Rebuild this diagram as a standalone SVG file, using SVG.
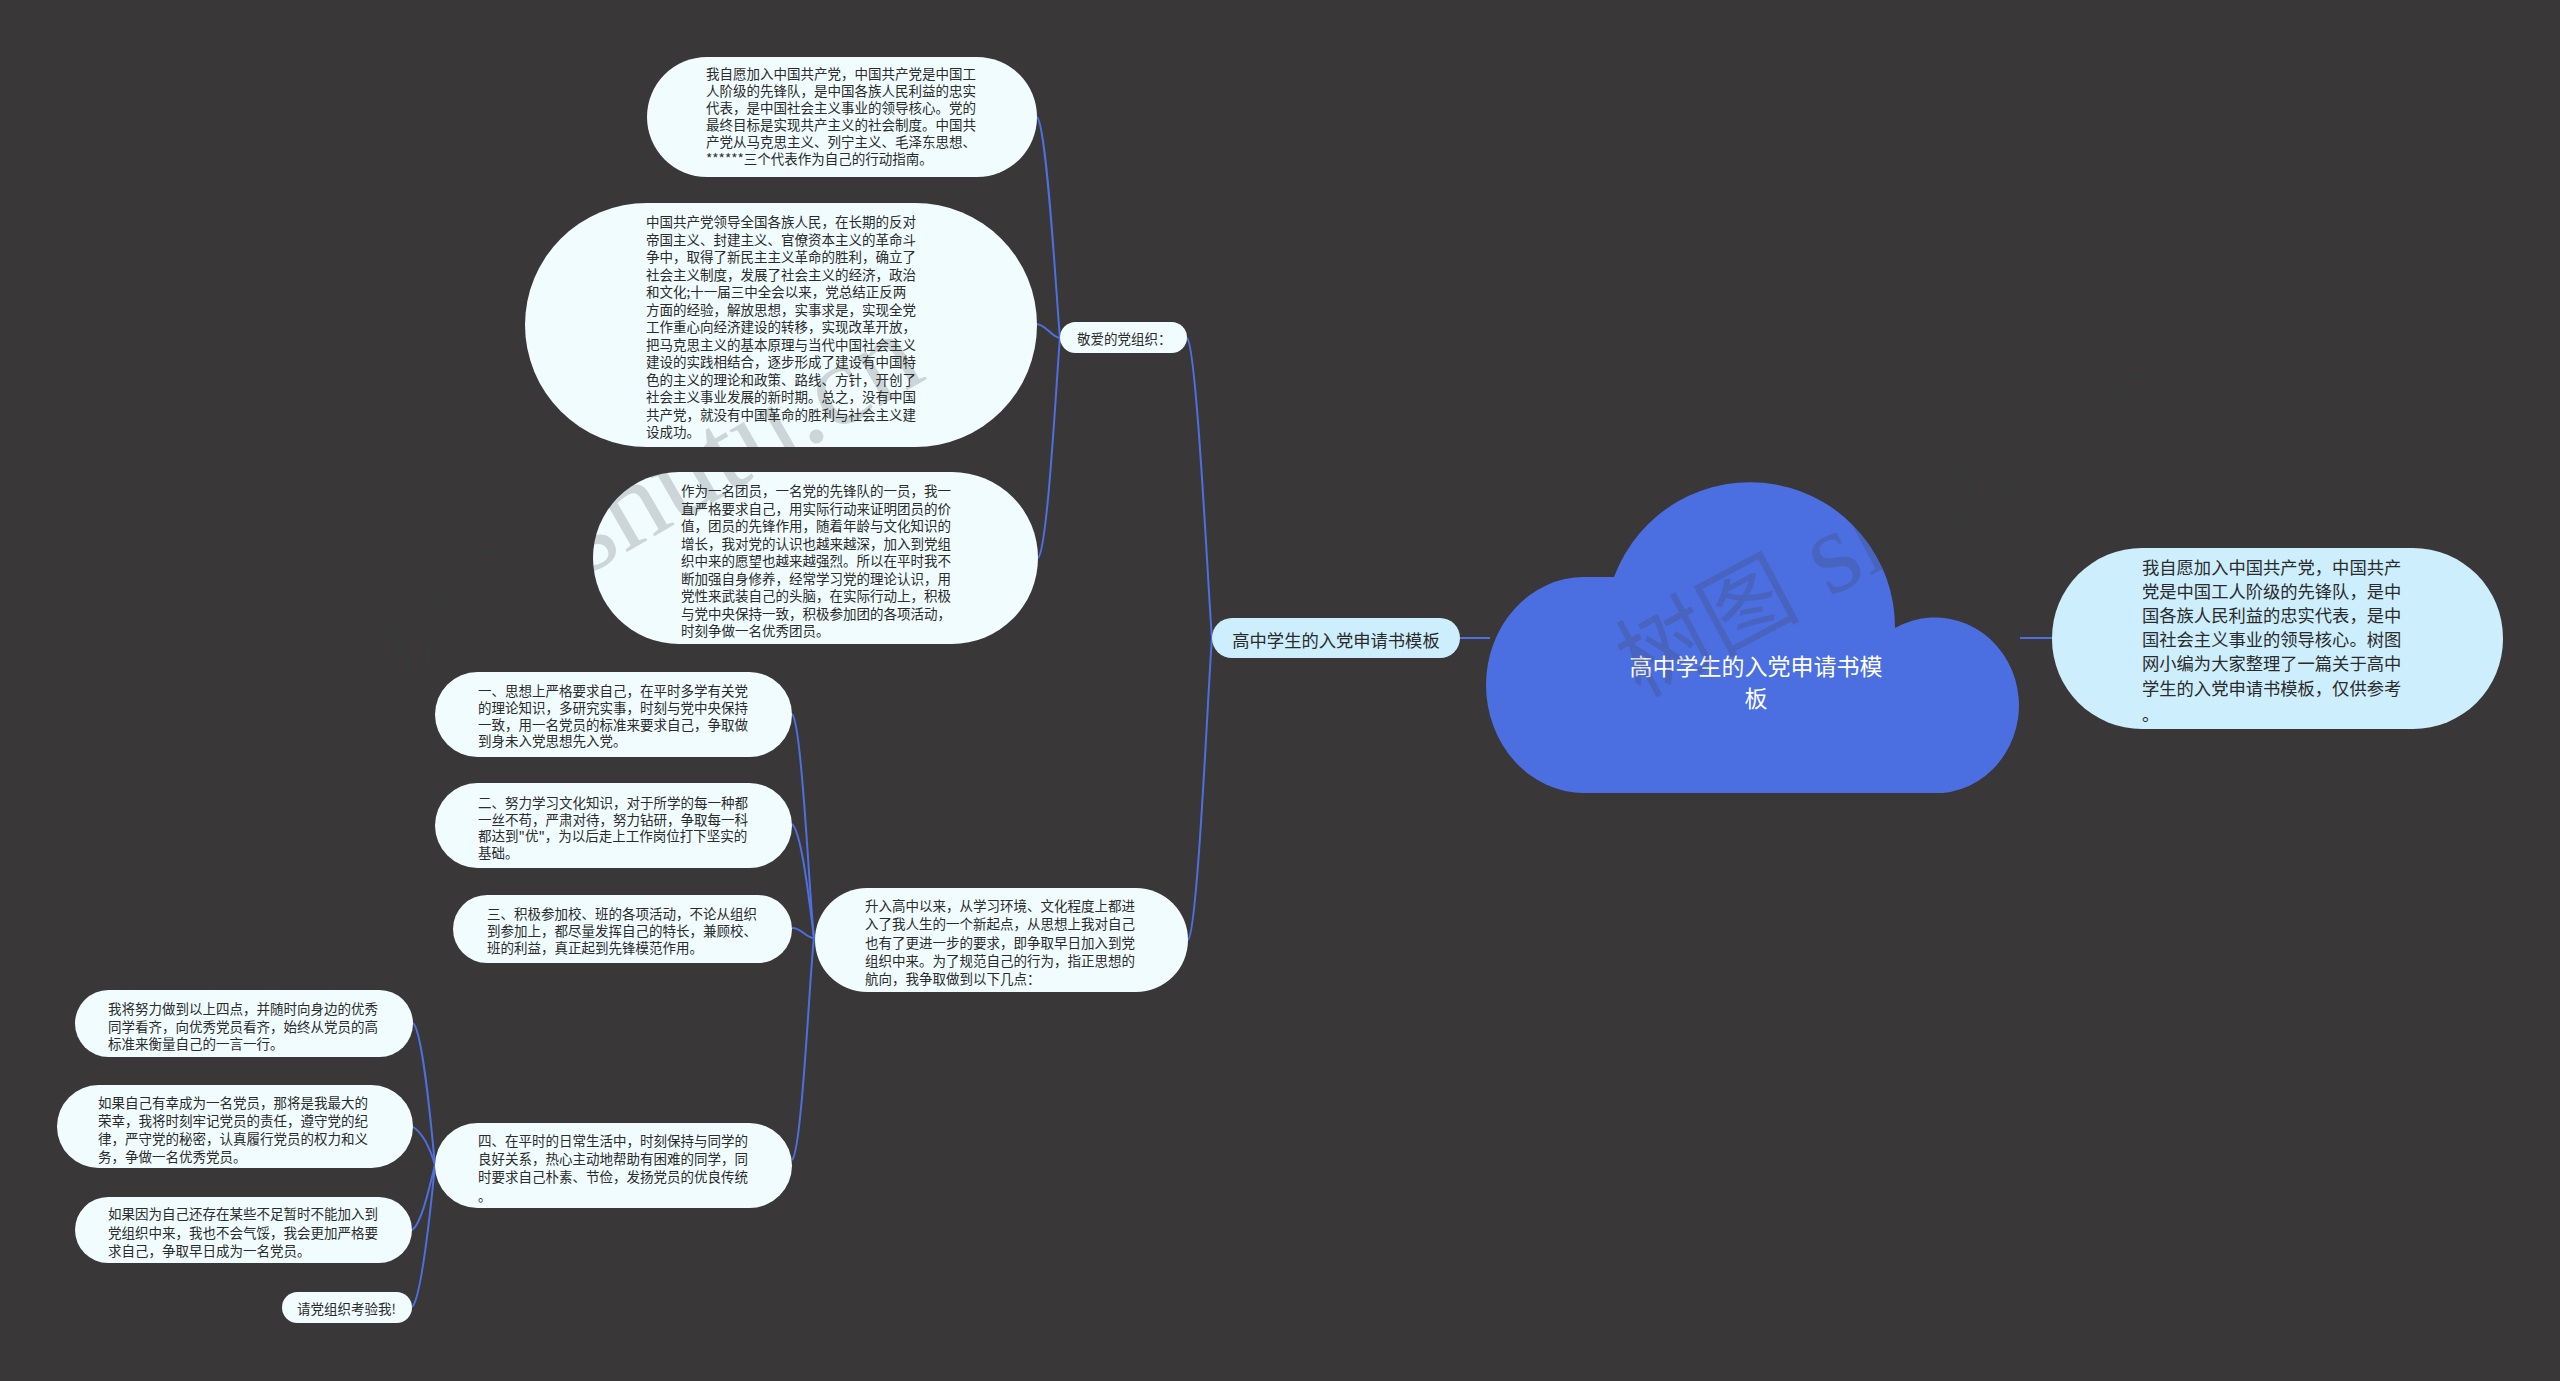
<svg xmlns="http://www.w3.org/2000/svg" width="2560" height="1381" viewBox="0 0 2560 1381">
<style>
.bg{fill:#393738}
.n{fill:#f0fcfe}
.n2{fill:#cdeefc}
.t{font-family:"Noto Sans CJK SC","Liberation Sans",sans-serif;font-size:13.5px;fill:#2b2b2b;dominant-baseline:central}
.tl{font-family:"Noto Sans CJK SC","Liberation Sans",sans-serif;font-size:17.3px;fill:#2b2b2b;dominant-baseline:central}
.tc{font-family:"Noto Sans CJK SC","Liberation Sans",sans-serif;font-size:23px;fill:#ffffff;dominant-baseline:central;text-anchor:middle}
.c{fill:none;stroke:#4d6fe0;stroke-width:2}
.wm{font-family:"Liberation Serif","Noto Sans CJK SC",serif;font-size:118px;fill:#3a3a3a;fill-opacity:0.2}
.wmc{font-size:92px}
</style>
<rect class="bg" x="0" y="0" width="2560" height="1381"/>

<g id="connectors">
<path class="c" stroke-width="3" d="M1460 638 L1490 638"/>
<path class="c" stroke-width="3" d="M2020 638 L2054 638"/>
<path class="c" d="M1187 338 C1197 346 1209 608 1212 638"/>
<path class="c" d="M1188 940 C1198 932 1209 668 1212 638"/>
<path class="c" d="M1037 117 C1047 125 1057 308 1060 338"/>
<path class="c" d="M1036 324 C1046 324 1052 338 1060 338"/>
<path class="c" d="M1038 558 C1048 550 1057 368 1060 338"/>
<path class="c" d="M792 714 C802 722 810 908 814 938"/>
<path class="c" d="M792 824 C802 832 810 908 814 938"/>
<path class="c" d="M792 928 C802 928 806 938 814 938"/>
<path class="c" d="M792 1160 C802 1152 810 968 814 938"/>
<path class="c" d="M413 1023 C423 1031 432 1135 435 1165"/>
<path class="c" d="M413 1127 C423 1133 431 1150 435 1165"/>
<path class="c" d="M412 1230 C422 1224 431 1180 435 1165"/>
<path class="c" d="M412 1307 C422 1299 432 1195 435 1165"/>
</g>

<g id="root">
<path fill="#4b6fe0" d="M1584 793 A98 108 0 0 1 1584 577 L1614 577 A145 145 0 0 1 1895 628 A84 88 0 1 1 1943 793 Z"/>
<text class="tc"><tspan x="1756" y="665">高中学生的入党申请书模</tspan><tspan x="1756" y="697">板</tspan></text>
</g>

<g id="summary">
<rect class="n2" x="2052" y="548" width="451" height="181" rx="90"/>
<text class="tl"><tspan x="2142" y="566">我自愿加入中国共产党，中国共产</tspan><tspan x="2142" y="590">党是中国工人阶级的先锋队，是中</tspan><tspan x="2142" y="614">国各族人民利益的忠实代表，是中</tspan><tspan x="2142" y="638">国社会主义事业的领导核心。树图</tspan><tspan x="2142" y="662">网小编为大家整理了一篇关于高中</tspan><tspan x="2142" y="687">学生的入党申请书模板，仅供参考</tspan><tspan x="2142" y="713">。</tspan></text>
</g>

<g id="main">
<rect class="n2" x="1212" y="618" width="248" height="40" rx="20"/>
<text class="tl" x="1336" y="639" text-anchor="middle">高中学生的入党申请书模板</text>
</g>

<g id="greeting">
<rect class="n" x="1060" y="322" width="127" height="31" rx="15.5"/>
<text class="t" x="1077" y="338">敬爱的党组织：</text>
</g>

<g id="p1">
<rect class="n" x="647" y="57" width="390" height="120" rx="60"/>
<text class="t"><tspan x="706" y="73">我自愿加入中国共产党，中国共产党是中国工</tspan><tspan x="706" y="90">人阶级的先锋队，是中国各族人民利益的忠实</tspan><tspan x="706" y="107">代表，是中国社会主义事业的领导核心。党的</tspan><tspan x="706" y="124">最终目标是实现共产主义的社会制度。中国共</tspan><tspan x="706" y="141">产党从马克思主义、列宁主义、毛泽东思想、</tspan><tspan x="706" y="158">******三个代表作为自己的行动指南。</tspan></text>
</g>

<g id="p2">
<rect class="n" x="525" y="203" width="512" height="244" rx="122"/>
<text class="t"><tspan x="646" y="221">中国共产党领导全国各族人民，在长期的反对</tspan><tspan x="646" y="238.5">帝国主义、封建主义、官僚资本主义的革命斗</tspan><tspan x="646" y="256">争中，取得了新民主主义革命的胜利，确立了</tspan><tspan x="646" y="273.5">社会主义制度，发展了社会主义的经济，政治</tspan><tspan x="646" y="291">和文化;十一届三中全会以来，党总结正反两</tspan><tspan x="646" y="308.5">方面的经验，解放思想，实事求是，实现全党</tspan><tspan x="646" y="326">工作重心向经济建设的转移，实现改革开放，</tspan><tspan x="646" y="343.5">把马克思主义的基本原理与当代中国社会主义</tspan><tspan x="646" y="361">建设的实践相结合，逐步形成了建设有中国特</tspan><tspan x="646" y="378.5">色的主义的理论和政策、路线、方针，开创了</tspan><tspan x="646" y="396">社会主义事业发展的新时期。总之，没有中国</tspan><tspan x="646" y="413.5">共产党，就没有中国革命的胜利与社会主义建</tspan><tspan x="646" y="431">设成功。</tspan></text>
</g>

<g id="p3">
<rect class="n" x="593" y="472" width="445" height="172" rx="86"/>
<text class="t"><tspan x="681" y="490">作为一名团员，一名党的先锋队的一员，我一</tspan><tspan x="681" y="507.5">直严格要求自己，用实际行动来证明团员的价</tspan><tspan x="681" y="525">值，团员的先锋作用，随着年龄与文化知识的</tspan><tspan x="681" y="542.5">增长，我对党的认识也越来越深，加入到党组</tspan><tspan x="681" y="560">织中来的愿望也越来越强烈。所以在平时我不</tspan><tspan x="681" y="577.5">断加强自身修养，经常学习党的理论认识，用</tspan><tspan x="681" y="595">党性来武装自己的头脑，在实际行动上，积极</tspan><tspan x="681" y="612.5">与党中央保持一致，积极参加团的各项活动，</tspan><tspan x="681" y="630">时刻争做一名优秀团员。</tspan></text>
</g>

<g id="intro">
<rect class="n" x="815" y="888" width="373" height="104" rx="52"/>
<text class="t"><tspan x="865" y="905">升入高中以来，从学习环境、文化程度上都进</tspan><tspan x="865" y="923">入了我人生的一个新起点，从思想上我对自己</tspan><tspan x="865" y="941.5">也有了更进一步的要求，即争取早日加入到党</tspan><tspan x="865" y="960">组织中来。为了规范自己的行为，指正思想的</tspan><tspan x="865" y="978">航向，我争取做到以下几点：</tspan></text>
</g>

<g id="point1">
<rect class="n" x="435" y="672" width="357" height="85" rx="42.5"/>
<text class="t"><tspan x="478" y="690">一、思想上严格要求自己，在平时多学有关党</tspan><tspan x="478" y="707">的理论知识，多研究实事，时刻与党中央保持</tspan><tspan x="478" y="723.5">一致，用一名党员的标准来要求自己，争取做</tspan><tspan x="478" y="740">到身未入党思想先入党。</tspan></text>
</g>

<g id="point2">
<rect class="n" x="435" y="783" width="357" height="85" rx="42.5"/>
<text class="t"><tspan x="478" y="802">二、努力学习文化知识，对于所学的每一种都</tspan><tspan x="478" y="818.5">一丝不苟，严肃对待，努力钻研，争取每一科</tspan><tspan x="478" y="835">都达到"优"，为以后走上工作岗位打下坚实的</tspan><tspan x="478" y="852">基础。</tspan></text>
</g>

<g id="point3">
<rect class="n" x="453" y="895" width="339" height="68" rx="34"/>
<text class="t"><tspan x="487" y="913">三、积极参加校、班的各项活动，不论从组织</tspan><tspan x="487" y="930">到参加上，都尽量发挥自己的特长，兼顾校、</tspan><tspan x="487" y="947">班的利益，真正起到先锋模范作用。</tspan></text>
</g>

<g id="point4">
<rect class="n" x="435" y="1123" width="357" height="85" rx="42.5"/>
<text class="t"><tspan x="478" y="1140">四、在平时的日常生活中，时刻保持与同学的</tspan><tspan x="478" y="1158">良好关系，热心主动地帮助有困难的同学，同</tspan><tspan x="478" y="1176">时要求自己朴素、节俭，发扬党员的优良传统</tspan><tspan x="478" y="1195">。</tspan></text>
</g>

<g id="c1">
<rect class="n" x="75" y="990" width="338" height="67" rx="33.5"/>
<text class="t"><tspan x="108" y="1008">我将努力做到以上四点，并随时向身边的优秀</tspan><tspan x="108" y="1025.5">同学看齐，向优秀党员看齐，始终从党员的高</tspan><tspan x="108" y="1043">标准来衡量自己的一言一行。</tspan></text>
</g>

<g id="c2">
<rect class="n" x="57" y="1085" width="356" height="83" rx="41.5"/>
<text class="t"><tspan x="98" y="1102">如果自己有幸成为一名党员，那将是我最大的</tspan><tspan x="98" y="1120">荣幸，我将时刻牢记党员的责任，遵守党的纪</tspan><tspan x="98" y="1138">律，严守党的秘密，认真履行党员的权力和义</tspan><tspan x="98" y="1156">务，争做一名优秀党员。</tspan></text>
</g>

<g id="c3">
<rect class="n" x="75" y="1197" width="337" height="66" rx="33"/>
<text class="t"><tspan x="108" y="1213">如果因为自己还存在某些不足暂时不能加入到</tspan><tspan x="108" y="1231.5">党组织中来，我也不会气馁，我会更加严格要</tspan><tspan x="108" y="1250">求自己，争取早日成为一名党员。</tspan></text>
</g>

<g id="c4">
<rect class="n" x="282" y="1292" width="130" height="31" rx="15.5"/>
<text class="t" x="297" y="1308">请党组织考验我!</text>
</g>

<g id="watermark">
<text class="wm" x="400" y="683" transform="rotate(-30 400 683)"><tspan class="wmc">树图</tspan> shutu.cn</text>
<text class="wm" x="1640" y="698" transform="rotate(-28 1640 698)"><tspan class="wmc">树图</tspan> shutu.cn</text>
</g>
</svg>
